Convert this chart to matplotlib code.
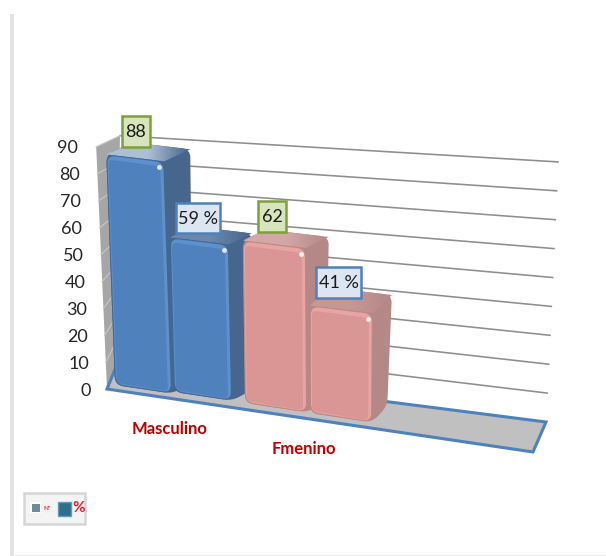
import matplotlib
matplotlib.use("Agg")
import matplotlib.pyplot as plt
import numpy as np
from matplotlib.colors import LinearSegmentedColormap
from matplotlib.patches import PathPatch, Polygon, Rectangle
from matplotlib.path import Path

# Survey counts and shares per group
categories = ["Masculino", "Fmenino"]
counts = [88, 62]
percents = [59, 41]
y_ticks = [0, 10, 20, 30, 40, 50, 60, 70, 80, 90]
legend_labels = ["Nº", "%"]

plt.rcParams["font.family"] = ["Lato", "DejaVu Sans"]

BLUE = dict(face="#4F81BD", edge="#40699C", light="#5E90CC", side="#47668E")
PINK = dict(face="#D99694", edge="#C68684", light="#E6A5A3", side="#B58888")


# 3D-look projection of the chart box, in pixels
def wall_front(v):
    return 107 - 0.12 * v, 389 - 2.69 * v


def wall_back(v):
    return 116 + 0.044 * v, 367 - 2.57 * v


def wall_right(v):
    return 546 + 0.133 * v, 422 - 2.89 * v


def rounded(pts, r):
    """Closed path through pts with the corners rounded off."""
    pts = [np.array(p, dtype=float) for p in pts]
    n = len(pts)
    verts, codes = [], []
    for i in range(n):
        p, prev, nxt = pts[i], pts[i - 1], pts[(i + 1) % n]
        a = p + (prev - p) / np.linalg.norm(prev - p) * r
        b = p + (nxt - p) / np.linalg.norm(nxt - p) * r
        verts += [a, p, b]
        codes += [Path.MOVETO if i == 0 else Path.LINETO, Path.CURVE3, Path.CURVE3]
    verts.append(verts[0])
    codes.append(Path.CLOSEPOLY)
    return Path(verts, codes)


def shrink(quad, left, top, right, bottom):
    """Move the tl, tr, br, bl corners of a quad inwards by the given pixels."""
    tl, tr, br, bl = quad
    return [(tl[0] + left, tl[1] + top), (tr[0] - right, tr[1] + top),
            (br[0] - right, br[1] - bottom), (bl[0] + left, bl[1] - bottom)]


def draw_bar(ax, x, base, width, value, depth, col, top_col):
    """One bevelled 3D column, height taken from value."""
    h = 2.62 * value
    lean = (316 - x) / 2010 * value
    dx, dy = depth
    bl = (x, base)
    br = (x + width, base + width * 0.15)
    tl = (x - lean, base - h)
    tr = (x - lean + width + 1, base - h + width * 0.12)
    tl_b = (tl[0] + dx, tl[1] + dy)
    tr_b = (tr[0] + dx, tr[1] + dy)
    br_b = (br[0] + dx * 0.8, br[1] + dy * 0.9)

    # whole block silhouette in the side colour
    outline = rounded([tl, tl_b, tr_b, br_b, br, bl], 8)
    patch = PathPatch(outline, fc=col["side"], ec="none", zorder=5)
    ax.add_patch(patch)

    # top face fades from light on the left into the side colour
    cmap = LinearSegmentedColormap.from_list("top", [top_col, top_col, col["side"]])
    grad = ax.imshow(np.linspace(0, 1, 64).reshape(1, -1), cmap=cmap, aspect="auto", zorder=5.1,
                     extent=(tl[0], tr_b[0], tr[1] + 2, tl_b[1] - 2), interpolation="bilinear")
    top_shape = PathPatch(Path([tl, tl_b, tr_b, tr, tl]), transform=ax.transData)
    grad.set_clip_path(top_shape)

    # front face: soft bevel, wider on the top and right edges
    front = [tl, tr, br, bl]
    ax.add_patch(PathPatch(rounded(front, 9), fc=col["edge"], ec="none", zorder=6))
    ax.add_patch(PathPatch(rounded(shrink(front, 1, 1, 1, 1), 8), fc=col["light"], ec="none", zorder=6))
    ax.add_patch(PathPatch(rounded(shrink(front, 2, 5, 4, 2), 5), fc=col["face"], ec="none", zorder=6))
    # small specular spot at the upper right corner
    ax.plot(tr[0] - 5, tr[1] + 6, "o", ms=3.5, mfc="white", mec="none", alpha=0.8, zorder=7)


def value_box(ax, x0, y0, w, h, text, fc, ec):
    ax.add_patch(Rectangle((x0, y0), w, h, fc=fc, ec=ec, lw=1.8, zorder=9))
    ax.text(x0 + w / 2, y0 + h / 2 + 0.5, text, ha="center", va="center",
            fontsize=13, color="#1A1A1A", zorder=10)


fig = plt.figure(figsize=(6.06, 5.56), dpi=100)
ax = fig.add_axes([0, 0, 1, 1])

# page edges
ax.add_patch(Rectangle((10, 14), 3.5, 542, fc="#E3E3E3", ec="none"))
ax.plot([15, 606], [555, 555], color="#F0F0F0", lw=1)

# side wall
ax.add_patch(Polygon([wall_front(90), wall_back(90), wall_back(0), wall_front(0)],
                     fc="#A6A6A6", ec="none", zorder=1))

# gridlines and tick labels
for v in y_ticks:
    fx, fy = wall_front(v)
    bx, by = wall_back(v)
    rx, ry = wall_right(v)
    if v > 0:
        ax.plot([bx, rx], [by, ry], color="#8E8E8E", lw=1.15, zorder=2)
        ax.plot([fx, bx], [fy, by], color="#C4C4C4", lw=0.9, zorder=2)
    ax.text(91 - 0.145 * v, fy + 1.5, str(v), ha="right", va="center", fontsize=13, color="#262626")

# floor
floor = [wall_front(0), (533, 452), wall_right(0), wall_back(0)]
ax.add_patch(Polygon(floor, closed=True, fc="#C0C0C0", ec="#4F81BD", lw=2.2, zorder=3))

# columns: count then percent for each group
values = [counts[0], percents[0], counts[1], percents[1]]
bar_x = [115, 174, 245, 310]
bar_base = [385, 392, 403, 413]
bar_w = [57, 58, 62, 62]
bar_depth = [(26, -12), (23, -11), (23, -11), (19, -18)]
bar_col = [BLUE, BLUE, PINK, PINK]
bar_top = ["#AFBFD3", "#6A88AC", "#D3A7A6", "#C59896"]
for x, base, w, val, d, c, t in zip(bar_x, bar_base, bar_w, values, bar_depth, bar_col, bar_top):
    draw_bar(ax, x, base, w, val, d, c, t)

# value labels
GREEN_F, GREEN_E = "#D7E4BC", "#7F9F3F"
BLUE_F, BLUE_E = "#DCE6F2", "#4F81BD"
value_box(ax, 122, 116, 28, 31, str(counts[0]), GREEN_F, GREEN_E)
value_box(ax, 176, 203, 44, 30, f"{percents[0]} %", BLUE_F, BLUE_E)
value_box(ax, 258, 201, 28, 31, str(counts[1]), GREEN_F, GREEN_E)
value_box(ax, 316, 267, 45, 31, f"{percents[1]} %", BLUE_F, BLUE_E)

# category names
ax.text(170, 429, categories[0], ha="center", va="center", fontsize=12, fontweight="bold", color="#C00000")
ax.text(304, 449, categories[1], ha="center", va="center", fontsize=12, fontweight="bold", color="#C00000")

# legend box
ax.add_patch(Rectangle((23.5, 493), 61, 31, fc="#F4F4F4", ec="#D6D6D6", lw=1.8))
ax.add_patch(Rectangle((30, 502), 11, 11, fc="#FFFFFF", ec="none"))
ax.add_patch(Rectangle((32, 504), 8, 8, fc="#6F8C9C", ec="none"))
ax.text(43, 508, legend_labels[0], ha="left", va="center", fontsize=4.5, fontweight="bold", color="#F03040")
ax.add_patch(Rectangle((58, 502), 13, 14, fc="#2F6F8C", ec="#5BA0B8", lw=1))
ax.text(72, 508, legend_labels[1], ha="left", va="center", fontsize=11, fontweight="bold", color="#F02030")

# imshow resets the limits, so fix them last
ax.set_xlim(0, 606)
ax.set_ylim(556, 0)
ax.axis("off")

fig.savefig("out.png", dpi=100)
plt.close(fig)
